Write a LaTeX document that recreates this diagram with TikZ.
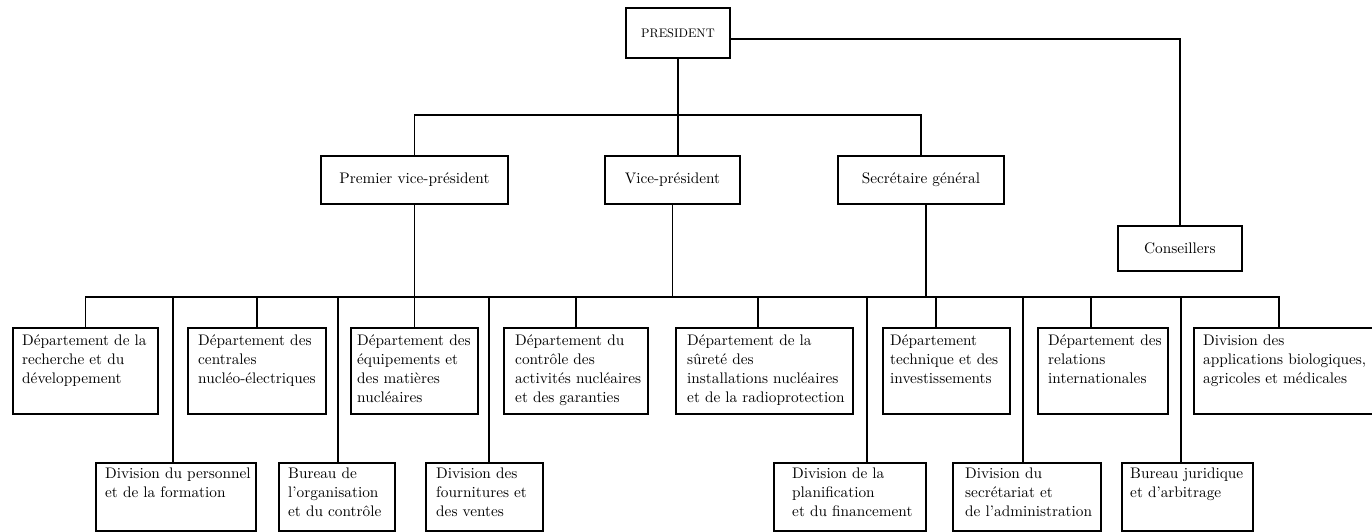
\documentclass[tikz,border=0pt]{standalone}
\usepackage{fontspec}
\newfontfamily\orgfont{lmroman10-regular.otf}[Ligatures=TeX]
\begin{document}
\begin{tikzpicture}[x=1pt,y=-1pt,
  frame/.style={draw, line width=1.9pt, inner sep=0pt, anchor=north west},
  conn/.style={line width=1.7pt},
  bodyfont/.style={font=\orgfont\fontsize{15.3}{19}\selectfont},
  boxtext/.style={bodyfont, anchor=north west, inner sep=0pt, align=left}]

\useasboundingbox (0,0) rectangle (1372,532);
\fill[white] (0,0) rectangle (1372,532);
\clip (0,0) rectangle (1372,532);

% management levels
\node[frame, minimum width=104, minimum height=50, font=\orgfont\fontsize{12.4}{14}\selectfont] (pres) at (625,7) {PRESIDENT};
\node[frame, minimum width=187, minimum height=48, bodyfont] (pvp) at (320,155) {Premier vice-président};
\node[frame, minimum width=135, minimum height=48, bodyfont] (vp) at (604,155) {Vice-président};
\node[frame, minimum width=166, minimum height=48, bodyfont] (sg) at (837,155) {Secrétaire général};
\node[frame, minimum width=124, minimum height=45, bodyfont] (cons) at (1117,225) {Conseillers};

% departments (upper row)
\node[frame, minimum width=145, minimum height=86] (b1) at (12,327) {};
\node[frame, minimum width=138, minimum height=86] (b2) at (187,327) {};
\node[frame, minimum width=127, minimum height=86] (b3) at (350,327) {};
\node[frame, minimum width=144, minimum height=86] (b4) at (503,327) {};
\node[frame, minimum width=177, minimum height=86] (b5) at (675,327) {};
\node[frame, minimum width=127, minimum height=86] (b6) at (882,327) {};
\node[frame, minimum width=130, minimum height=86] (b7) at (1037,327) {};
\node[frame, minimum width=187, minimum height=86] (b8) at (1193,327) {};

\node[boxtext] (tb1) at ([shift={(10,7.4)}]b1.north west) {Département de la\\recherche et du\\développement};
\node[boxtext] (tb2) at ([shift={(11,7.4)}]b2.north west) {Département des\\centrales\\nucléo-électriques};
\node[boxtext] (tb3) at ([shift={(7,7.4)}]b3.north west) {Département des\\équipements et\\des matières\\nucléaires};
\node[boxtext] (tb4) at ([shift={(12,7.4)}]b4.north west) {Département du\\contrôle des\\activités nucléaires\\et des garanties};
\node[boxtext] (tb5) at ([shift={(12,7.4)}]b5.north west) {Département de la\\sûreté des\\installations nucléaires\\et de la radioprotection};
\node[boxtext] (tb6) at ([shift={(8,7.4)}]b6.north west) {Département\\technique et des\\investissements};
\node[boxtext] (tb7) at ([shift={(11,7.4)}]b7.north west) {Département des\\relations\\internationales};
\node[boxtext] (tb8) at ([shift={(10,7.4)}]b8.north west) {Division des\\applications biologiques,\\agricoles et médicales};

% divisions and offices (lower row)
\node[frame, minimum width=160, minimum height=68] (c1) at (95,462) {};
\node[frame, minimum width=116, minimum height=68] (c2) at (278,462) {};
\node[frame, minimum width=117, minimum height=68] (c3) at (425,462) {};
\node[frame, minimum width=152, minimum height=68] (c4) at (773,462) {};
\node[frame, minimum width=148, minimum height=68] (c5) at (952,462) {};
\node[frame, minimum width=131, minimum height=68] (c6) at (1121,462) {};

\node[boxtext] (tc1) at ([shift={(10,5.6)}]c1.north west) {Division du personnel\\et de la formation};
\node[boxtext] (tc2) at ([shift={(10,5.6)}]c2.north west) {Bureau de\\l’organisation\\et du contrôle};
\node[boxtext] (tc3) at ([shift={(11,5.6)}]c3.north west) {Division des\\fournitures et\\des ventes};
\node[boxtext] (tc4) at ([shift={(19,5.6)}]c4.north west) {Division de la\\planification\\et du financement};
\node[boxtext] (tc5) at ([shift={(13,5.6)}]c5.north west) {Division du\\secrétariat et\\de l’administration};
\node[boxtext] (tc6) at ([shift={(9,5.6)}]c6.north west) {Bureau juridique\\et d’arbitrage};

% bus levels
\coordinate (barA) at (0,115);
\coordinate (barB) at (0,297);

% president to the three heads and to the advisers
\draw[conn] (pres.south) -- (pres.south |- vp.north);
\draw[conn] (pvp.north) |- (sg.north |- barA) -- (sg.north);
\draw[conn] ([yshift=-6pt]pres.east) -| (cons.north);

% heads down to the lower bus
\draw[conn] (pvp.south) -- (b3.north);
\draw[conn] (vp.south) -- (vp.south |- barB);
\draw[conn] ([xshift=5pt]sg.south) -- ([xshift=5pt]sg.south |- barB);

% lower bus with branches to the departments
\draw[conn] (b1.north) |- ([xshift=-8.5pt]b8.north |- barB) -- ([xshift=-8.5pt]b8.north);
\draw[conn] (b2.north |- barB) -- (b2.north);
\draw[conn] (b4.north |- barB) -- (b4.north);
\draw[conn] ([xshift=-6.5pt]b5.north |- barB) -- ([xshift=-6.5pt]b5.north);
\draw[conn] ([xshift=-10.5pt]b6.north |- barB) -- ([xshift=-10.5pt]b6.north);
\draw[conn] ([xshift=-12pt]b7.north |- barB) -- ([xshift=-12pt]b7.north);

% long drops to the divisions
\draw[conn] ([xshift=-3pt]c1.north |- barB) -- ([xshift=-3pt]c1.north);
\draw[conn] ([xshift=1pt]c2.north |- barB) -- ([xshift=1pt]c2.north);
\draw[conn] ([xshift=4.5pt]c3.north |- barB) -- ([xshift=4.5pt]c3.north);
\draw[conn] ([xshift=17pt]c4.north |- barB) -- ([xshift=17pt]c4.north);
\draw[conn] ([xshift=-4pt]c5.north |- barB) -- ([xshift=-4pt]c5.north);
\draw[conn] ([xshift=-6.5pt]c6.north |- barB) -- ([xshift=-6.5pt]c6.north);
\end{tikzpicture}
\end{document}
